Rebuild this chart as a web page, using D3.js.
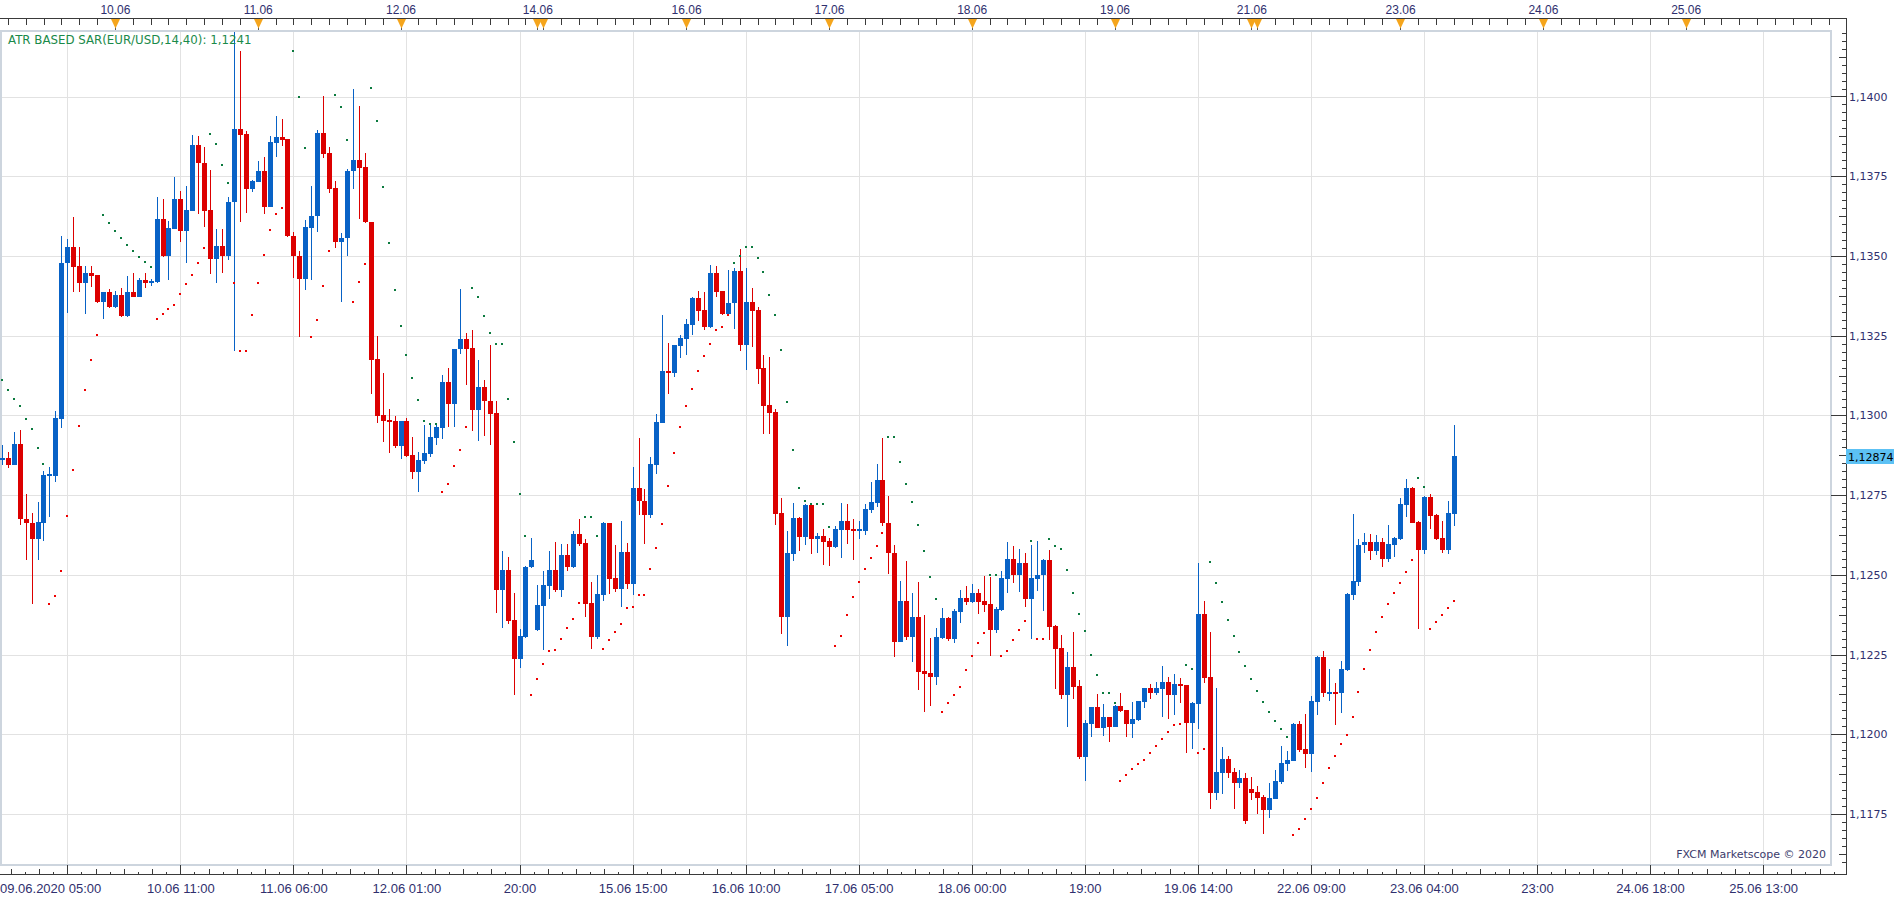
<!DOCTYPE html>
<html>
<head>
<meta charset="utf-8">
<title>EUR/USD H1 - ATR based SAR</title>
<script src="https://cdn.jsdelivr.net/npm/d3@7"></script>
<style>
  html, body { margin: 0; padding: 0; background: #fff; overflow: hidden; }
  svg { display: block; }
</style>
</head>
<body>
<svg id="chart" width="1903" height="900"></svg>
<script>
// EUR/USD hourly candles, 09.06.2020 05:00 .. 23.06.2020 09:00
var openP = [
  1.12865, 1.12866, 1.12845, 1.12911, 1.12676, 1.12664, 1.12611, 1.12664, 1.12812, 1.12811,
  1.12990, 1.13477, 1.13529, 1.13467, 1.13415, 1.13448, 1.13439, 1.13355, 1.13386, 1.13339,
  1.13379, 1.13311, 1.13386, 1.13371, 1.13423, 1.13414, 1.13418, 1.13617, 1.13501, 1.13586,
  1.13679, 1.13579, 1.13642, 1.13848, 1.13792, 1.13645, 1.13490, 1.13532, 1.13501, 1.13668,
  1.13898, 1.13882, 1.13711, 1.13733, 1.13765, 1.13655, 1.13855, 1.13873, 1.13867, 1.13564,
  1.13501, 1.13427, 1.13589, 1.13624, 1.13886, 1.13823, 1.13714, 1.13545, 1.13555, 1.13765,
  1.13801, 1.13779, 1.13607, 1.13176, 1.13001, 1.12986, 1.12982, 1.12905, 1.12982, 1.12876,
  1.12821, 1.12858, 1.12880, 1.12930, 1.12961, 1.13105, 1.13036, 1.13207, 1.13239, 1.13211,
  1.13018, 1.13090, 1.13045, 1.13007, 1.12454, 1.12514, 1.12357, 1.12236, 1.12304, 1.12523,
  1.12326, 1.12401, 1.12464, 1.12514, 1.12454, 1.12561, 1.12523, 1.12629, 1.12601, 1.12411,
  1.12304, 1.12436, 1.12661, 1.12489, 1.12457, 1.12573, 1.12470, 1.12773, 1.12732, 1.12689,
  1.12845, 1.12976, 1.13139, 1.13133, 1.13217, 1.13239, 1.13282, 1.13367, 1.13329, 1.13276,
  1.13448, 1.13389, 1.13317, 1.13351, 1.13454, 1.13220, 1.13357, 1.13329, 1.13148, 1.13032,
  1.13011, 1.12695, 1.12367, 1.12564, 1.12679, 1.12620, 1.12720, 1.12611, 1.12623, 1.12607,
  1.12586, 1.12642, 1.12670, 1.12645, 1.12641, 1.12639, 1.12704, 1.12726, 1.12798, 1.12664,
  1.12570, 1.12289, 1.12417, 1.12304, 1.12367, 1.12198, 1.12192, 1.12179, 1.12301, 1.12364,
  1.12298, 1.12382, 1.12426, 1.12414, 1.12442, 1.12417, 1.12407, 1.12326, 1.12389, 1.12486,
  1.12551, 1.12501, 1.12536, 1.12423, 1.12486, 1.12498, 1.12545, 1.12339, 1.12270, 1.12123,
  1.12211, 1.12151, 1.11929, 1.12032, 1.12086, 1.12020, 1.12054, 1.12023, 1.12089, 1.12076,
  1.12032, 1.12045, 1.12101, 1.12145, 1.12129, 1.12142, 1.12164, 1.12123, 1.12157, 1.12154,
  1.12036, 1.12095, 1.12376, 1.12179, 1.11817, 1.11879, 1.11923, 1.11882, 1.11848, 1.11864,
  1.11829, 1.11820, 1.11804, 1.11761, 1.11798, 1.11851, 1.11907, 1.11917, 1.12032, 1.11954,
  1.11939, 1.12101, 1.12242, 1.12131, 1.12133, 1.12129, 1.12201, 1.12436, 1.12479, 1.12592,
  1.12604, 1.12576, 1.12604, 1.12551, 1.12595, 1.12611, 1.12720, 1.12773, 1.12667, 1.12579,
  1.12745, 1.12689, 1.12614, 1.12579, 1.12692
];
var highP = [
  1.12907, 1.12885, 1.12948, 1.12954, 1.12754, 1.12694, 1.12729, 1.12826, 1.12839, 1.13014,
  1.13564, 1.13553, 1.13623, 1.13529, 1.13467, 1.13470, 1.13440, 1.13386, 1.13396, 1.13390,
  1.13399, 1.13436, 1.13448, 1.13431, 1.13448, 1.13429, 1.13686, 1.13679, 1.13611, 1.13746,
  1.13704, 1.13718, 1.13879, 1.13876, 1.13842, 1.13771, 1.13585, 1.13585, 1.13686, 1.14201,
  1.14142, 1.13892, 1.13737, 1.13799, 1.13811, 1.13876, 1.13939, 1.13929, 1.13868, 1.13576,
  1.13515, 1.13614, 1.13718, 1.13895, 1.14001, 1.13842, 1.13736, 1.13573, 1.13774, 1.14023,
  1.13970, 1.13823, 1.13608, 1.13249, 1.13133, 1.13020, 1.12998, 1.12983, 1.12992, 1.12932,
  1.12886, 1.12970, 1.12973, 1.12973, 1.13126, 1.13149, 1.13208, 1.13395, 1.13257, 1.13267,
  1.13173, 1.13111, 1.13220, 1.13045, 1.12576, 1.12557, 1.12442, 1.12329, 1.12527, 1.12614,
  1.12467, 1.12511, 1.12576, 1.12604, 1.12598, 1.12598, 1.12636, 1.12676, 1.12611, 1.12476,
  1.12498, 1.12667, 1.12662, 1.12595, 1.12670, 1.12601, 1.12839, 1.12929, 1.12770, 1.12870,
  1.13004, 1.13314, 1.13226, 1.13221, 1.13251, 1.13301, 1.13370, 1.13389, 1.13386, 1.13473,
  1.13467, 1.13390, 1.13457, 1.13461, 1.13523, 1.13461, 1.13401, 1.13339, 1.13189, 1.13182,
  1.13020, 1.12742, 1.12636, 1.12726, 1.12682, 1.12721, 1.12721, 1.12632, 1.12645, 1.12614,
  1.12654, 1.12726, 1.12723, 1.12676, 1.12670, 1.12723, 1.12792, 1.12848, 1.12929, 1.12748,
  1.12595, 1.12482, 1.12542, 1.12442, 1.12479, 1.12373, 1.12301, 1.12332, 1.12395, 1.12367,
  1.12392, 1.12454, 1.12464, 1.12470, 1.12457, 1.12495, 1.12492, 1.12398, 1.12511, 1.12604,
  1.12589, 1.12582, 1.12570, 1.12595, 1.12607, 1.12551, 1.12579, 1.12342, 1.12311, 1.12257,
  1.12320, 1.12170, 1.12045, 1.12086, 1.12126, 1.12095, 1.12055, 1.12092, 1.12129, 1.12077,
  1.12101, 1.12105, 1.12146, 1.12157, 1.12164, 1.12214, 1.12179, 1.12189, 1.12176, 1.12155,
  1.12101, 1.12536, 1.12417, 1.12320, 1.12145, 1.11961, 1.11932, 1.11895, 1.11889, 1.11879,
  1.11867, 1.11839, 1.11811, 1.11848, 1.11889, 1.11964, 1.11948, 1.12036, 1.12042, 1.12064,
  1.12120, 1.12245, 1.12261, 1.12204, 1.12161, 1.12229, 1.12442, 1.12692, 1.12611, 1.12632,
  1.12629, 1.12626, 1.12617, 1.12657, 1.12620, 1.12742, 1.12801, 1.12774, 1.12670, 1.12748,
  1.12754, 1.12690, 1.12670, 1.12732, 1.12970
];
var lowP = [
  1.12845, 1.12836, 1.12843, 1.12657, 1.12548, 1.12408, 1.12548, 1.12607, 1.12682, 1.12792,
  1.12961, 1.13321, 1.13386, 1.13386, 1.13318, 1.13402, 1.13354, 1.13302, 1.13336, 1.13337,
  1.13307, 1.13309, 1.13370, 1.13370, 1.13399, 1.13406, 1.13415, 1.13496, 1.13423, 1.13585,
  1.13543, 1.13477, 1.13641, 1.13630, 1.13590, 1.13443, 1.13415, 1.13446, 1.13486, 1.13202,
  1.13605, 1.13636, 1.13702, 1.13732, 1.13630, 1.13654, 1.13811, 1.13845, 1.13558, 1.13430,
  1.13246, 1.13393, 1.13424, 1.13576, 1.13808, 1.13696, 1.13524, 1.13355, 1.13499, 1.13711,
  1.13615, 1.13604, 1.13068, 1.12975, 1.12916, 1.12883, 1.12899, 1.12864, 1.12871, 1.12799,
  1.12761, 1.12849, 1.12868, 1.12908, 1.12927, 1.12965, 1.12965, 1.13194, 1.13096, 1.12951,
  1.12920, 1.12936, 1.12907, 1.12380, 1.12332, 1.12345, 1.12124, 1.12207, 1.12303, 1.12520,
  1.12325, 1.12264, 1.12423, 1.12445, 1.12432, 1.12511, 1.12520, 1.12589, 1.12367, 1.12267,
  1.12298, 1.12417, 1.12439, 1.12445, 1.12398, 1.12457, 1.12436, 1.12689, 1.12598, 1.12679,
  1.12817, 1.12975, 1.13067, 1.13120, 1.13179, 1.13189, 1.13251, 1.13295, 1.13267, 1.13275,
  1.13370, 1.13314, 1.13316, 1.13270, 1.13201, 1.13142, 1.13214, 1.13098, 1.12942, 1.12942,
  1.12657, 1.12314, 1.12276, 1.12542, 1.12576, 1.12595, 1.12564, 1.12570, 1.12532, 1.12529,
  1.12585, 1.12554, 1.12598, 1.12545, 1.12611, 1.12626, 1.12695, 1.12714, 1.12654, 1.12504,
  1.12242, 1.12288, 1.12295, 1.12226, 1.12139, 1.12070, 1.12089, 1.12154, 1.12298, 1.12292,
  1.12286, 1.12348, 1.12404, 1.12411, 1.12376, 1.12382, 1.12245, 1.12317, 1.12388, 1.12442,
  1.12473, 1.12445, 1.12398, 1.12298, 1.12448, 1.12388, 1.12295, 1.12142, 1.12111, 1.12023,
  1.12111, 1.11923, 1.11854, 1.11992, 1.12019, 1.11995, 1.11976, 1.12022, 1.12070, 1.11992,
  1.11989, 1.12042, 1.12082, 1.12111, 1.12123, 1.12054, 1.12048, 1.12061, 1.12098, 1.11942,
  1.11954, 1.12017, 1.12161, 1.11767, 1.11795, 1.11814, 1.11864, 1.11767, 1.11832, 1.11720,
  1.11795, 1.11751, 1.11686, 1.11739, 1.11797, 1.11845, 1.11886, 1.11916, 1.11945, 1.11895,
  1.11882, 1.12061, 1.12117, 1.12104, 1.12029, 1.12067, 1.12198, 1.12420, 1.12464, 1.12567,
  1.12545, 1.12561, 1.12526, 1.12539, 1.12557, 1.12610, 1.12682, 1.12663, 1.12329, 1.12564,
  1.12645, 1.12610, 1.12567, 1.12564, 1.12654
];
var closeP = [
  1.12867, 1.12845, 1.12911, 1.12674, 1.12661, 1.12611, 1.12667, 1.12814, 1.12815, 1.12992,
  1.13479, 1.13529, 1.13465, 1.13415, 1.13448, 1.13436, 1.13355, 1.13386, 1.13339, 1.13379,
  1.13311, 1.13386, 1.13371, 1.13423, 1.13415, 1.13421, 1.13617, 1.13501, 1.13589, 1.13679,
  1.13579, 1.13645, 1.13848, 1.13790, 1.13642, 1.13490, 1.13532, 1.13501, 1.13670, 1.13898,
  1.13879, 1.13711, 1.13736, 1.13765, 1.13655, 1.13857, 1.13873, 1.13864, 1.13561, 1.13499,
  1.13427, 1.13592, 1.13626, 1.13886, 1.13821, 1.13711, 1.13545, 1.13557, 1.13767, 1.13801,
  1.13777, 1.13605, 1.13174, 1.12999, 1.12983, 1.12980, 1.12905, 1.12982, 1.12874, 1.12821,
  1.12861, 1.12882, 1.12932, 1.12964, 1.13105, 1.13036, 1.13207, 1.13239, 1.13207, 1.13018,
  1.13090, 1.13045, 1.13004, 1.12454, 1.12514, 1.12355, 1.12236, 1.12307, 1.12526, 1.12545,
  1.12404, 1.12467, 1.12514, 1.12454, 1.12561, 1.12523, 1.12629, 1.12598, 1.12407, 1.12304,
  1.12439, 1.12661, 1.12486, 1.12457, 1.12573, 1.12470, 1.12773, 1.12730, 1.12689, 1.12848,
  1.12979, 1.13139, 1.13133, 1.13220, 1.13242, 1.13286, 1.13367, 1.13326, 1.13276, 1.13448,
  1.13386, 1.13317, 1.13354, 1.13454, 1.13220, 1.13357, 1.13326, 1.13145, 1.13029, 1.13007,
  1.12692, 1.12367, 1.12567, 1.12679, 1.12620, 1.12720, 1.12611, 1.12623, 1.12604, 1.12586,
  1.12645, 1.12670, 1.12642, 1.12639, 1.12643, 1.12707, 1.12729, 1.12798, 1.12661, 1.12567,
  1.12289, 1.12417, 1.12304, 1.12367, 1.12195, 1.12189, 1.12179, 1.12304, 1.12364, 1.12298,
  1.12386, 1.12426, 1.12414, 1.12442, 1.12414, 1.12404, 1.12326, 1.12392, 1.12489, 1.12551,
  1.12501, 1.12536, 1.12423, 1.12489, 1.12501, 1.12545, 1.12336, 1.12267, 1.12123, 1.12211,
  1.12148, 1.11929, 1.12036, 1.12086, 1.12020, 1.12054, 1.12023, 1.12089, 1.12073, 1.12032,
  1.12048, 1.12104, 1.12145, 1.12129, 1.12145, 1.12164, 1.12123, 1.12157, 1.12151, 1.12036,
  1.12098, 1.12376, 1.12176, 1.11817, 1.11882, 1.11923, 1.11879, 1.11848, 1.11864, 1.11729,
  1.11817, 1.11801, 1.11761, 1.11801, 1.11854, 1.11911, 1.11920, 1.12032, 1.11951, 1.11939,
  1.12104, 1.12242, 1.12129, 1.12133, 1.12130, 1.12204, 1.12439, 1.12482, 1.12595, 1.12604,
  1.12576, 1.12604, 1.12551, 1.12598, 1.12614, 1.12723, 1.12773, 1.12664, 1.12579, 1.12745,
  1.12686, 1.12611, 1.12579, 1.12695, 1.12874
];
// ATR based SAR(14,40), one value per candle
var sarP = [
  1.13111, 1.13080, 1.13052, 1.13030, 1.12990, 1.12958, 1.12899, 1.12846, 1.12408, 1.12433,
  1.12511, 1.12683, 1.12830, 1.12968, 1.13080, 1.13174, 1.13252, 1.13627, 1.13602, 1.13577,
  1.13555, 1.13533, 1.13515, 1.13496, 1.13480, 1.13465, 1.13302, 1.13318, 1.13333, 1.13346,
  1.13380, 1.13411, 1.13440, 1.13477, 1.13524, 1.13883, 1.13852, 1.13786, 1.13730, 1.13415,
  1.13202, 1.13202, 1.13315, 1.13415, 1.13502, 1.13580, 1.13630, 1.13649, null,    1.14143,
  1.13999, 1.13840, 1.13246, 1.13299, 1.13405, 1.13515, 1.14006, 1.13968, 1.13865, 1.13355,
  1.13418, 1.13474, 1.14027, 1.13924, 1.13715, 1.13540, 1.13393, 1.13280, 1.13190, 1.13118,
  1.13049, 1.12983, 1.12974, 1.12974, 1.12761, 1.12786, 1.12840, 1.12893, 1.12965, 1.13399,
  1.13371, 1.13311, 1.13258, 1.13224, 1.13224, 1.13052, 1.12915, 1.12752, 1.12621, 1.12124,
  1.12174, 1.12221, 1.12261, 1.12265, 1.12299, 1.12333, 1.12361, 1.12411, 1.12680, 1.12680,
  1.12621, 1.12268, 1.12296, 1.12321, 1.12346, 1.12396, 1.12399, 1.12436, 1.12436, 1.12518,
  1.12583, 1.12658, 1.12780, 1.12883, 1.12965, 1.13030, 1.13083, 1.13140, 1.13186, 1.13224,
  1.13268, 1.13277, 1.13315, 1.13477, 1.13501, 1.13527, 1.13527, 1.13492, 1.13449, 1.13377,
  1.13315, 1.13205, 1.13043, 1.12890, 1.12771, 1.12730, 1.12721, 1.12721, 1.12721, 1.12649,
  1.12277, 1.12308, 1.12374, 1.12430, 1.12477, 1.12518, 1.12552, 1.12590, 1.12630, 1.12933,
  1.12933, 1.12855, 1.12786, 1.12727, 1.12655, 1.12574, 1.12493, 1.12424, 1.12071, 1.12099,
  1.12124, 1.12149, 1.12202, 1.12246, 1.12286, 1.12318, 1.12499, 1.12498, 1.12245, 1.12261,
  1.12295, 1.12326, 1.12354, 1.12607, 1.12298, 1.12298, 1.12611, 1.12589, 1.12582, 1.12514,
  1.12442, 1.12376, 1.12323, 1.12248, 1.12186, 1.12129, 1.12129, 1.12098, 1.11854, 1.11873,
  1.11892, 1.11907, 1.11920, 1.11942, 1.11964, 1.11986, 1.12007, 1.12029, 1.12032, 1.12217,
  1.12204, 1.11942, 1.11954, 1.12539, 1.12473, 1.12414, 1.12357, 1.12307, 1.12257, 1.12214,
  1.12174, 1.12136, 1.12102, 1.12071, 1.12043, 1.12015, 1.11990, 1.11683, 1.11702, 1.11733,
  1.11765, 1.11799, 1.11846, 1.11893, 1.11933, 1.11968, 1.11999, 1.12055, 1.12133, 1.12205,
  1.12265, 1.12321, 1.12368, 1.12408, 1.12443, 1.12474, 1.12508, 1.12546, 1.12805, 1.12777,
  1.12330, 1.12352, 1.12374, 1.12396, 1.12418
];

// time axis (candle index based)
var firstLabel = "09.06.2020 05:00";
var gridIdx = [11, 30, 49, 68, 87, 106, 125, 144, 163, 182, 201, 220, 239, 258, 277, 296];
var timeLabels = ["", "10.06 11:00", "11.06 06:00", "12.06 01:00", "20:00", "15.06 15:00",
  "16.06 10:00", "17.06 05:00", "18.06 00:00", "19:00", "19.06 14:00", "22.06 09:00",
  "23.06 04:00", "23:00", "24.06 18:00", "25.06 13:00"];
var dayMarkIdx = [19, 43, 67, 90, 91, 115, 139, 163, 187, 210, 211, 235, 259, 283];
var dayIdx = [19, 43, 67, 90, 115, 139, 163, 187, 210, 235, 259, 283];
var dayLabels = ["10.06", "11.06", "12.06", "14.06", "16.06", "17.06", "18.06", "19.06",
  "21.06", "23.06", "24.06", "25.06"];
var priceTicks = [1.1175, 1.12, 1.1225, 1.125, 1.1275, 1.13, 1.1325, 1.135, 1.1375, 1.14];
var indicatorText = "ATR BASED SAR(EUR/USD,14,40): 1,1241";
var copyText = "FXCM Marketscope \u00a9 2020";

// ---- layout ----
var plotR = 1830, plotT = 30, plotB = 864, axisX = 1846, topAxisY = 18.5, botAxisY = 874.5;
var blue = "#0862c6", red = "#dc0000", sarGreen = "#0b7a3e", sarRed = "#ee0000";
var axisCol = "#3a3a3a", labelCol = "#2f2f6e", gridCol = "#e2e2e2";

var svg = d3.select("#chart");

var x = d3.scaleLinear().domain([0, 307]).range([1.85, 1828.5]);
var y = d3.scaleLinear().domain([1.1175, 1.14]).range([814, 96.5]);

function px(i) { return Math.round(x(i)); }
function py(v) { return Math.round(y(v)); }
function comma(v, n) { return d3.format("." + n + "f")(v).replace(".", ","); }

svg.append("defs").append("clipPath").attr("id", "clip")
  .append("rect").attr("x", 0).attr("y", plotT + 1).attr("width", plotR).attr("height", plotB - plotT - 1);

// grid
var grid = svg.append("g").attr("shape-rendering", "crispEdges");
grid.selectAll(".hg").data(priceTicks).enter().append("line")
  .attr("x1", 0).attr("x2", plotR)
  .attr("y1", function(d) { return py(d) + 0.5; }).attr("y2", function(d) { return py(d) + 0.5; })
  .attr("stroke", gridCol);
grid.selectAll(".vg").data(gridIdx).enter().append("line")
  .attr("x1", function(d) { return px(d) + 0.5; }).attr("x2", function(d) { return px(d) + 0.5; })
  .attr("y1", plotT).attr("y2", plotB)
  .attr("stroke", gridCol);

// plot frame
svg.append("rect").attr("x", 0.5).attr("y", plotT + 0.5).attr("width", plotR).attr("height", plotB - plotT)
  .attr("fill", "none").attr("stroke", "#cdd5de").attr("stroke-width", 2).attr("shape-rendering", "crispEdges");

// candles
var candles = d3.range(openP.length).map(function(i) {
  return { i: i, o: openP[i], h: highP[i], l: lowP[i], c: closeP[i], s: sarP[i] };
});
var cg = svg.append("g").attr("clip-path", "url(#clip)").attr("shape-rendering", "crispEdges");

cg.selectAll(".wick").data(candles).enter().append("rect")
  .attr("x", function(d) { return px(d.i); })
  .attr("y", function(d) { return py(d.h); })
  .attr("width", 1)
  .attr("height", function(d) { return Math.max(1, py(d.l) - py(d.h)); })
  .attr("fill", function(d) { return d.c >= d.o ? blue : red; });

cg.selectAll(".body").data(candles).enter().append("rect")
  .attr("x", function(d) { return px(d.i) - 2; })
  .attr("y", function(d) { return py(Math.max(d.o, d.c)); })
  .attr("width", 5)
  .attr("height", function(d) { return Math.max(2, py(Math.min(d.o, d.c)) - py(Math.max(d.o, d.c))); })
  .attr("fill", function(d) { return d.c >= d.o ? blue : red; });

// SAR dots
cg.selectAll(".sar").data(candles.filter(function(d) { return d.s != null; })).enter().append("rect")
  .attr("x", function(d) { return px(d.i) - 1; })
  .attr("y", function(d) { return py(d.s) - 1; })
  .attr("width", 2).attr("height", 2)
  .attr("fill", function(d) { return d.s > d.c ? sarGreen : sarRed; });

// indicator caption + copyright
svg.append("text").attr("x", 8).attr("y", 43.5).text(indicatorText)
  .attr("font-family", "DejaVu Sans, Verdana, sans-serif").attr("font-size", 11.8).attr("fill", "#1a8a4a");
svg.append("text").attr("x", 1826).attr("y", 858).attr("text-anchor", "end").text(copyText)
  .attr("font-family", "DejaVu Sans, Verdana, sans-serif").attr("font-size", 11).attr("fill", "#3b3b6b");

// ---- right price axis ----
var ra = svg.append("g").attr("shape-rendering", "crispEdges");
ra.append("line").attr("x1", axisX + 0.5).attr("x2", axisX + 0.5).attr("y1", topAxisY).attr("y2", botAxisY)
  .attr("stroke", axisCol);
var minorVals = d3.range(1.1160, 1.1421, 0.00025).filter(function(v) { return y(v) > topAxisY + 2 && y(v) < botAxisY - 2; });
ra.selectAll(".rt").data(minorVals).enter().append("line")
  .attr("x1", function(d, k) {
    var r = Math.round(d / 0.00025) % 10;
    return r === 0 ? plotR + 1 : (r === 5 ? axisX - 7 : axisX - 4);
  })
  .attr("x2", axisX)
  .attr("y1", function(d) { return py(d) + 0.5; }).attr("y2", function(d) { return py(d) + 0.5; })
  .attr("stroke", axisCol);

var rLab = svg.append("g").attr("transform", "translate(" + axisX + ",0)")
  .call(d3.axisRight(y).tickValues(priceTicks).tickSize(0).tickPadding(3)
    .tickFormat(function(d) { return comma(d, 4); }));
rLab.select(".domain").remove();
rLab.selectAll("text").attr("font-family", "DejaVu Sans, Verdana, sans-serif").attr("font-size", 11).attr("fill", labelCol);

// last price marker
var last = closeP[closeP.length - 1];
svg.append("rect").attr("x", axisX).attr("y", py(last) - 7).attr("width", 48).attr("height", 15).attr("fill", "#5cc1f4");
svg.append("text").attr("x", axisX + 2).attr("y", py(last) + 4.5).text(comma(last, 5))
  .attr("font-family", "DejaVu Sans, Verdana, sans-serif").attr("font-size", 11).attr("fill", "#000");

// ---- bottom time axis ----
svg.append("line").attr("x1", 0).attr("x2", axisX + 1).attr("y1", botAxisY).attr("y2", botAxisY)
  .attr("stroke", axisCol).attr("shape-rendering", "crispEdges");
var bMinor = d3.range(11 - 19, 308, 19 / 8).map(function(v, k) { return { v: v, k: k }; })
  .filter(function(d) { return d.v >= 0 && d.k % 8 !== 0; });
svg.append("g").attr("shape-rendering", "crispEdges").selectAll("line").data(bMinor).enter().append("line")
  .attr("x1", function(d) { return px(d.v) + 0.5; }).attr("x2", function(d) { return px(d.v) + 0.5; })
  .attr("y1", function(d) { return botAxisY - (d.k % 2 === 0 ? 6 : 3); }).attr("y2", botAxisY)
  .attr("stroke", axisCol);
var bAx = svg.append("g").attr("transform", "translate(0," + botAxisY + ")")
  .call(d3.axisBottom(x).tickValues(gridIdx).tickSizeInner(-(botAxisY - plotB - 1)).tickSizeOuter(0).tickPadding(9)
    .tickFormat(function(d, k) { return timeLabels[k]; }));
bAx.select(".domain").remove();
bAx.selectAll("line").attr("stroke", axisCol).attr("shape-rendering", "crispEdges");
bAx.selectAll("text").attr("font-family", "Liberation Sans, Arial, sans-serif").attr("font-size", 13).attr("fill", labelCol);
svg.append("text").attr("x", 0).attr("y", botAxisY + 18).text(firstLabel)
  .attr("font-family", "Liberation Sans, Arial, sans-serif").attr("font-size", 13).attr("fill", labelCol);

// ---- top date axis ----
svg.append("line").attr("x1", 0).attr("x2", axisX + 1).attr("y1", topAxisY).attr("y2", topAxisY)
  .attr("stroke", axisCol).attr("shape-rendering", "crispEdges");
var tMinor = svg.append("g").attr("transform", "translate(0," + topAxisY + ")")
  .call(d3.axisTop(x).tickValues(d3.range(1, 308, 3)).tickSizeInner(-6).tickSizeOuter(0).tickFormat(""));
tMinor.select(".domain").remove();
tMinor.selectAll("line").attr("stroke", axisCol).attr("shape-rendering", "crispEdges");

var marks = svg.append("g");
marks.selectAll("line").data(dayMarkIdx).enter().append("line")
  .attr("x1", function(d) { return px(d) + 0.5; }).attr("x2", function(d) { return px(d) + 0.5; })
  .attr("y1", topAxisY).attr("y2", plotT).attr("stroke", "#555").attr("shape-rendering", "crispEdges");
marks.selectAll("path").data(dayMarkIdx).enter().append("path")
  .attr("d", function(d) {
    var cx = px(d) + 0.5;
    return "M" + (cx - 4.5) + "," + (topAxisY + 0.5) + "L" + (cx + 4.5) + "," + (topAxisY + 0.5) + "L" + cx + "," + (topAxisY + 10) + "Z";
  })
  .attr("fill", "#f5a51c");

var tAx = svg.append("g").attr("transform", "translate(0," + topAxisY + ")")
  .call(d3.axisTop(x).tickValues(dayIdx).tickSize(0).tickPadding(5)
    .tickFormat(function(d, k) { return dayLabels[k]; }));
tAx.select(".domain").remove();
tAx.selectAll("text").attr("font-family", "Liberation Sans, Arial, sans-serif").attr("font-size", 12).attr("fill", labelCol);
</script>
</body>
</html>
